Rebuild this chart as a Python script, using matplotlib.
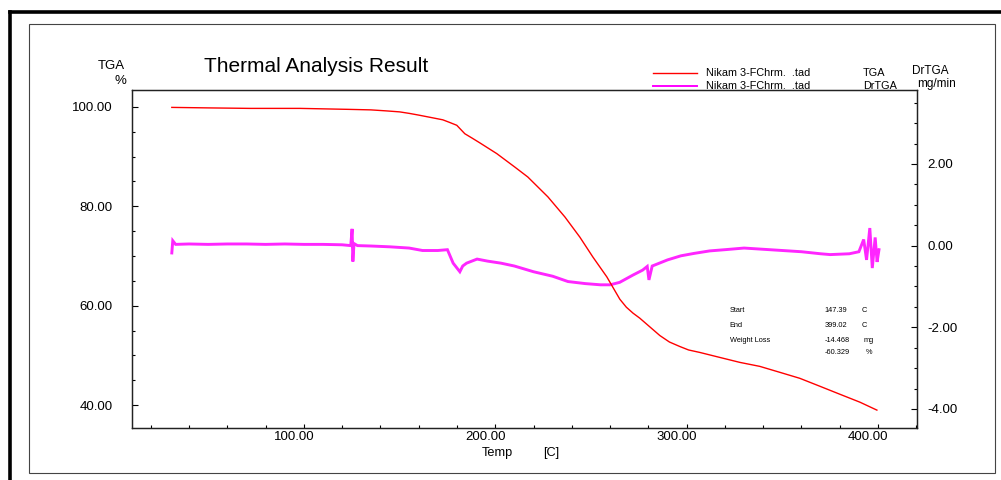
import matplotlib
matplotlib.use("Agg")
from matplotlib import pyplot as plt
from matplotlib.lines import Line2D
from matplotlib.patches import Rectangle
from matplotlib.transforms import ScaledTranslation
from matplotlib.ticker import MultipleLocator

plt.rcParams['font.family'] = ['Liberation Sans', 'DejaVu Sans']

#==============================================================================
#                                 Data
#==============================================================================

# TGA curve (weight %)
tgaTemp = [31, 50, 72, 98, 124, 135, 143, 150, 155, 160, 166, 172.6, 176,
           179.9, 181.5, 184.1, 188, 192, 200.8, 210.2, 217, 227.5, 236.4,
           244.2, 251, 258.3, 265.1, 268.5, 272, 275.5, 280, 286, 291, 296.4,
           301, 306.9, 317.3, 327.8, 338.2, 348.7, 359.1, 369.6, 380, 390.5,
           399.4]
tgaPct = [99.9, 99.8, 99.7, 99.7, 99.5, 99.4, 99.2, 99.0, 98.7, 98.35, 97.9,
          97.4, 96.9, 96.3, 95.65, 94.6, 93.7, 92.75, 90.6, 87.9, 85.9, 81.9,
          77.85, 73.8, 69.8, 65.8, 61.3, 59.7, 58.5, 57.5, 56.0, 54.0, 52.7,
          51.8, 51.1, 50.6, 49.6, 48.6, 47.8, 46.6, 45.4, 43.8, 42.2, 40.6,
          39.0]

# DrTGA curve (mg/min)
drTemp = [31, 31.5, 33, 40, 50, 60, 70, 80, 90, 100, 110, 120, 124.5, 125.2,
          125.6, 126.2, 128, 135, 145, 155, 162, 170, 175, 178, 181.5, 183,
          185, 190.5, 196, 203, 210, 220, 230, 238, 247, 255, 260, 265, 272,
          277, 279.4, 280.3, 282, 290, 297, 304, 312, 320, 330, 340, 350, 360,
          370, 375, 385, 390, 392.5, 394, 395.7, 397, 398.5, 399.5, 400.5]
drRate = [-0.18, 0.12, 0.03, 0.04, 0.03, 0.04, 0.04, 0.03, 0.04, 0.03, 0.03,
          0.02, 0.0, 0.41, -0.39, 0.05, 0.0, -0.01, -0.03, -0.06, -0.12, -0.12,
          -0.1, -0.43, -0.64, -0.5, -0.43, -0.33, -0.38, -0.43, -0.5, -0.64,
          -0.75, -0.88, -0.93, -0.96, -0.96, -0.9, -0.72, -0.6, -0.51, -0.84,
          -0.5, -0.35, -0.25, -0.19, -0.13, -0.1, -0.06, -0.09, -0.12, -0.15,
          -0.2, -0.22, -0.2, -0.15, 0.15, -0.35, 0.43, -0.55, 0.2, -0.4, -0.1]

xTicks = [100, 200, 300, 400]
xTickLabels = ["100.00", "200.00", "300.00", "400.00"]
leftTicks = [40, 60, 80, 100]
leftTickLabels = ["40.00", "60.00", "80.00", "100.00"]
rightTicks = [-4, -2, 0, 2]
rightTickLabels = ["-4.00", "-2.00", "0.00", "2.00"]

legendNames = ["Nikam 3-FChrm.  .tad", "Nikam 3-FChrm.  .tad"]
legendKinds = ["TGA", "DrTGA"]

resultNames = ["Start", "End", "Weight Loss", ""]
resultValues = ["147.39", "399.02", "-14.468", "-60.329"]
resultUnits = ["C", "C", "mg", "%"]

#==============================================================================
#                              Plot Graph
#==============================================================================

W, H = 1001, 480
fig = plt.figure(figsize=(W / 100, H / 100), dpi=100)

#pixel -> figure fraction
def fx(px):
    return px / W

def fy(py):
    return 1 - py / H

ax = fig.add_axes([fx(132), fy(428), fx(916.7) - fx(132), fy(90) - fy(428)])
ax2 = ax.twinx()
ax.set_zorder(ax2.get_zorder() + 1)
ax.patch.set_visible(False)

ax.plot(tgaTemp, tgaPct, color='#ff0000', lw=1.0)
ax2.plot(drTemp, drRate, color='#ff00ff', lw=2.1, alpha=0.85, solid_joinstyle='miter')

ax.set_xlim(10.2, 420.2)
ax.set_ylim(35.4, 103.4)
ax2.set_ylim(-4.466, 3.81)

ax.set_xticks(xTicks)
ax.set_xticklabels(xTickLabels, fontsize=9.5)
ax.xaxis.set_minor_locator(MultipleLocator(20))
ax.set_yticks(leftTicks)
ax.set_yticklabels(leftTickLabels, fontsize=9.5)
ax.yaxis.set_minor_locator(MultipleLocator(5))
ax2.set_yticks(rightTicks)
ax2.set_yticklabels(rightTickLabels, fontsize=9.5)
ax2.yaxis.set_minor_locator(MultipleLocator(0.5))

ax.tick_params(axis='x', which='major', direction='in', length=3, width=0.8, pad=2.5)
ax.tick_params(axis='x', which='minor', direction='in', length=2, width=0.8)
ax.tick_params(axis='y', which='major', direction='in', length=4.5, width=0.8, pad=14)
ax.tick_params(axis='y', which='minor', direction='in', length=2.4, width=0.8)
ax2.tick_params(axis='y', which='major', direction='in', length=4.2, width=0.8, pad=7.5)
ax2.tick_params(axis='y', which='minor', direction='in', length=2.4, width=0.8)

#x tick labels sit a bit left of their ticks in the original
for lab in ax.get_xticklabels():
    lab.set_transform(lab.get_transform() + ScaledTranslation(-0.10, 0, fig.dpi_scale_trans))

for a in (ax, ax2):
    for s in a.spines.values():
        s.set_color('#222222')
        s.set_linewidth(0.9)

#Title, axis labels, units
fig.text(fx(204), fy(67), "Thermal Analysis Result", fontsize=15, va='center', ha='left')
fig.text(fx(125), fy(66), "TGA", fontsize=9.5, va='center', ha='right')
fig.text(fx(126), fy(80.5), "%", fontsize=9.5, va='center', ha='right')
fig.text(fx(912), fy(71), "DrTGA", fontsize=8.5, va='center', ha='left')
fig.text(fx(917), fy(84.5), "mg/min", fontsize=8.5, va='center', ha='left')
fig.text(fx(482), fy(452.7), "Temp", fontsize=9.2, va='center', ha='left')
fig.text(fx(543), fy(452.7), "[C]", fontsize=9.2, va='center', ha='left')

#legend, drawn by hand like the instrument printout
legColors = ['#ff0000', '#ff00ff']
legRows = [73.3, 85.7]
for i in range(2):
    fig.add_artist(Line2D([fx(653), fx(697)], [fy(legRows[i]), fy(legRows[i])],
                          color=legColors[i], lw=1.0 if i == 0 else 1.4,
                          transform=fig.transFigure))
    fig.text(fx(706), fy(legRows[i]), legendNames[i], fontsize=7.8, va='center', ha='left')
    fig.text(fx(863), fy(legRows[i]), legendKinds[i], fontsize=7.8, va='center', ha='left')

#result table
resultRows = [311, 325.3, 340, 352.3]
unitX = [862, 862, 864, 865.5]
for i in range(len(resultRows)):
    fig.text(fx(729.5), fy(resultRows[i]), resultNames[i], fontsize=5.3, va='center', ha='left')
    fig.text(fx(824.5), fy(resultRows[i]), resultValues[i], fontsize=5.3, va='center', ha='left')
    fig.text(fx(unitX[i]), fy(resultRows[i]), resultUnits[i], fontsize=5.3, va='center', ha='left')

#frames
fig.add_artist(Rectangle((fx(29), fy(472.5)), fx(995) - fx(29), fy(24) - fy(472.5),
                         fill=False, ec='#444444', lw=0.8, transform=fig.transFigure))
fig.add_artist(Line2D([fx(10.2), fx(1010)], [fy(11.7), fy(11.7)], color='black',
                      lw=2.6, solid_capstyle='projecting', transform=fig.transFigure))
fig.add_artist(Line2D([fx(10.2), fx(10.2)], [fy(11.7), fy(490)], color='black',
                      lw=2.6, solid_capstyle='projecting', transform=fig.transFigure))

fig.savefig("out.png", dpi=100)
